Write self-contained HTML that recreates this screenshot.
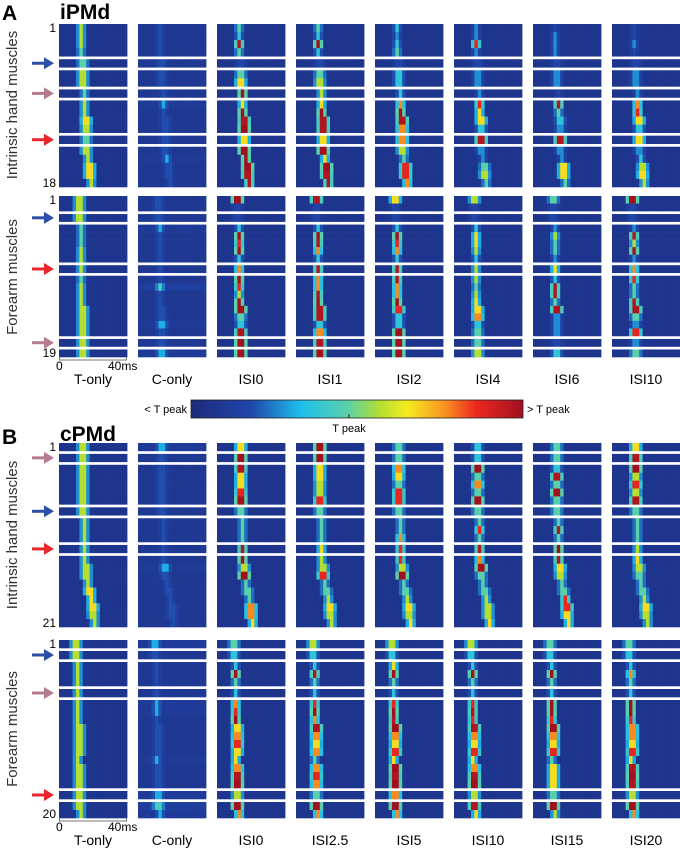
<!DOCTYPE html>
<html><head><meta charset="utf-8">
<style>
body{margin:0;background:#fff;}
#fig{position:relative;width:680px;height:852px;overflow:hidden;font-family:"Liberation Sans",sans-serif;color:#222;}
svg{position:absolute;left:0;top:0;}
</style></head>
<body>
<div id="fig">
<svg id="chart" width="680" height="852"></svg>
</div>
<script>
// ===== data =====
const conditionsA = ["T-only","C-only","ISI0","ISI1","ISI2","ISI4","ISI6","ISI10"];
const conditionsB = ["T-only","C-only","ISI0","ISI2.5","ISI5","ISI10","ISI15","ISI20"];
// latencies of T-only peak per muscle (ms)
const latAIntr = [13,13,13,13,14,14,14,15,15,15,16,16,16,16,17,18,18,19];
const latAFore = [12,12,12,13,13,13,13,13,13,13,13,13,13,14,14,14,14,14,14];
const latBIntr = [14,14,14,14,14,14,14,14,15,15,15,15,15,16,16,17,18,19,20,20,21];
const latBFore = [10,10,11,11,11,11,11,11,11,12,12,12,12,11,12,12,12,12,12,13];
// block structure (rows per block; single rows are highlighted muscles)
const blocksAIntr = [4,1,2,1,4,1,5];
const blocksAFore = [2,1,5,1,8,1,1];
const blocksBIntr = [1,1,5,1,3,1,9];
const blocksBFore = [1,1,3,1,11,1,2];
// peak amplitude per condition (0-10; 5 = T peak)
const ampAIntr = [
 [5,5,5,4,4,5,5,4,5,5,6,5,4,5,5,6,6,5],
 [1,1,1,1,1,1,1,1,2,1,1,1,1,1,2,1,1,1],
 [4,3,9,4,1,4,6,10,6,10,9,10,6,10,10,10,9,9],
 [4,3,10,3,1,4,5,5,6,10,9,9,6,10,6,10,9,9],
 [3,2,3,4,1,3,3,3,7,10,9,7,7,5,4,8,8,7],
 [2,2,8,2,1,2,2,2,8,6,6,3,9,2,2,4,5,4],
 [1,2,2,2,1,2,2,1,9,4,3,2,9,2,2,6,6,4],
 [1,1,2,1,1,2,2,2,7,8,6,3,6,2,3,5,6,5]];
const ampAFore = [
 [5,5,5,4,4,4,5,5,5,4,5,5,5,5,5,5,5,5,5],
 [1,1,1,2,1,1,1,1,1,1,3,1,1,1,1,2,1,1,2],
 [10,1,1,3,10,8,10,3,7,10,8,5,10,10,4,3,9,10,10],
 [9,1,1,3,10,9,7,3,9,7,7,9,10,9,9,3,7,9,10],
 [6,1,1,3,10,8,7,3,9,9,7,7,10,8,3,3,10,10,10],
 [5,1,1,3,6,6,5,3,5,5,4,5,6,6,7,3,4,4,5],
 [4,1,1,2,5,4,4,2,6,3,9,9,4,9,2,2,2,1,3],
 [10,1,1,2,9,5,10,2,7,8,4,4,9,9,4,2,8,2,4]];
const ampBIntr = [
 [5,5,5,5,5,5,5,5,5,5,5,5,5,5,5,5,6,6,6,5,5],
 [2,1,1,1,1,1,1,1,1,1,1,1,1,2,1,1,1,1,1,1,1],
 [6,10,9,6,6,8,10,4,4,4,4,9,10,5,10,4,4,4,7,7,6],
 [10,10,6,6,5,5,8,4,4,4,4,6,5,5,8,4,4,5,6,5,5],
 [4,4,7,6,4,8,8,4,4,4,7,8,8,5,10,4,4,5,6,5,6],
 [3,3,10,4,7,4,10,4,4,8,4,9,7,10,4,4,4,5,5,5,6],
 [4,4,3,9,4,10,4,4,4,9,4,10,9,6,5,4,4,8,8,6,6],
 [6,9,10,5,8,5,9,4,4,4,4,5,6,5,4,4,4,5,6,5,5]];
const ampBFore = [
 [5,5,5,5,5,5,5,5,5,5,5,5,5,5,5,5,5,5,5,5],
 [2,1,1,1,1,1,2,2,1,1,1,1,1,2,1,1,1,2,3,2],
 [4,3,3,10,4,3,7,8,10,6,7,8,6,6,7,9,10,5,10,7],
 [5,3,3,9,4,3,8,10,7,9,7,6,7,4,7,8,7,4,10,7],
 [5,3,6,10,4,3,8,10,9,10,7,6,8,6,10,9,10,7,10,7],
 [5,3,3,10,4,3,8,9,8,9,7,6,8,6,7,9,10,5,9,6],
 [4,3,3,10,4,3,10,10,8,10,7,6,8,4,6,6,6,4,10,5],
 [4,3,3,7,4,3,10,10,8,7,7,6,8,6,9,10,9,5,10,7]];
// arrow colors per highlighted row (1-based row index)
const arrowsAIntr = [[5,"blue"],[8,"pink"],[13,"red"]];
const arrowsAFore = [[3,"blue"],[9,"red"],[18,"pink"]];
const arrowsBIntr = [[2,"pink"],[8,"blue"],[12,"red"]];
const arrowsBFore = [[2,"blue"],[6,"pink"],[18,"red"]];
const timeMax = 40;

// ===== rendering =====
const NS="http://www.w3.org/2000/svg";
const svg=document.getElementById('chart');
function mk(tag,attrs,parent){const e=document.createElementNS(NS,tag);for(const k in attrs)e.setAttribute(k,attrs[k]);(parent||svg).appendChild(e);return e;}
const stops=[[0,[29,42,122]],[0.18,[32,70,170]],[0.33,[30,190,236]],[0.47,[90,208,170]],[0.57,[180,222,50]],[0.65,[244,236,32]],[0.76,[248,150,32]],[0.86,[236,40,32]],[1,[160,16,32]]];
function cmap(v){v=Math.max(0,Math.min(1,v));for(let i=1;i<stops.length;i++){if(v<=stops[i][0]){const a=stops[i-1],b=stops[i];const t=(v-a[0])/(b[0]-a[0]);const c=a[1].map((x,j)=>Math.round(x+(b[1][j]-x)*t));return `rgb(${c})`;}}return 'rgb(160,16,32)';}
const panelX=[59,138,217,296,375,454,533,612], panelW=68, nBins=20;
const xScale=ms=>ms/timeMax*nBins;
const colorOf={blue:"#2d4ea6",pink:"#b57b91",red:"#e8262b"};

function rowLayout(top,bottom,blocks){
  const n=blocks.reduce((a,b)=>a+b,0), gap=3;
  const rh=(bottom-top-gap*(blocks.length-1))/n;
  const ys=[];let y=top;
  blocks.forEach(b=>{for(let i=0;i<b;i++){ys.push(y);y+=rh;}y+=gap;});
  return {ys,rh,n};
}
function group(name,top,bottom,blocks,lat,amps,arrows,lastLabel){
  const L=rowLayout(top,bottom,blocks);
  const g=mk('g',{});
  
  
  amps.forEach((ampRow,ci)=>{
    const pg=mk('g',{},g);
    
    
    const bw=panelW/nBins;
    for(let r=0;r<L.n;r++){
      const lb=xScale(lat[r]);
      for(let b=0;b<nBins;b++){
        const d=Math.abs(b+0.5-lb);
        const k=d<0.75?1:(d<1.75?0.4:0);
        const v=0.07+ampRow[r]/10*k + (ci===1?ampRow[r]*0.02:0);
        const c=mk('rect',{x:(panelX[ci]+b*bw).toFixed(2),y:L.ys[r].toFixed(2),width:(bw+0.4).toFixed(2),height:(L.rh+0.3).toFixed(2),fill:cmap(v)},pg);
        
        
      }
    }
  });
  const t1=mk('text',{x:56,y:L.ys[0]+L.rh/2+4,'text-anchor':'end','font-size':12},g);t1.textContent='1';
  
  
  const t2=mk('text',{x:56,y:L.ys[L.n-1]+L.rh/2+4,'text-anchor':'end','font-size':12},g);t2.textContent=String(lastLabel);
  
  
  arrows.forEach(([row,col])=>{
    const y=L.ys[row-1]+L.rh/2, c=colorOf[col];
    const a=mk('g',{},g);
    
    
    mk('line',{x1:32,y1:y,x2:48,y2:y,stroke:c,'stroke-width':3},a);
    mk('path',{d:`M44 ${y-6} L54 ${y} L44 ${y+6} Z`,fill:c},a);
  });
}
group('iPMd-intrinsic',24,187,blocksAIntr,latAIntr,ampAIntr,arrowsAIntr,18);
group('iPMd-forearm',196,357,blocksAFore,latAFore,ampAFore,arrowsAFore,19);
group('cPMd-intrinsic',443,627,blocksBIntr,latBIntr,ampBIntr,arrowsBIntr,21);
group('cPMd-forearm',640,818,blocksBFore,latBFore,ampBFore,arrowsBFore,20);

function txt(s,x,y,attrs,name){const t=mk('text',Object.assign({x,y},attrs));t.textContent=s;return t;}
txt('A',2,20,{'font-size':21,'font-weight':'bold'},'panel-a-label');
txt('iPMd',60,19,{'font-size':21,'font-weight':'bold'},'panel-a-title');
txt('B',2,444,{'font-size':21,'font-weight':'bold'},'panel-b-label');
txt('cPMd',60,441,{'font-size':21,'font-weight':'bold'},'panel-b-title');
[['Intrinsic hand muscles',105],['Forearm muscles',277],['Intrinsic hand muscles',535],['Forearm muscles',729]].forEach(([s,y],i)=>{
  txt(s,0,0,{'font-size':15,'text-anchor':'middle',fill:'#333',transform:`translate(17,${y}) rotate(-90)`},'y-axis-title-'+(i+1));
});
function axis(y,conds,pre){
  const ax=mk('g',{});
  
  
  mk('line',{x1:59,y1:y,x2:127,y2:y,stroke:'#777','stroke-width':1},ax);
  mk('line',{x1:59.5,y1:y,x2:59.5,y2:y-3,stroke:'#777'},ax);
  mk('line',{x1:126.5,y1:y,x2:126.5,y2:y-3,stroke:'#777'},ax);
  txt('0',56,y+10,{'font-size':12},pre+'-scale-zero');
  txt('40ms',108,y+10,{'font-size':12},pre+'-scale-40ms');
  conds.forEach((c,i)=>txt(c,panelX[i]+panelW/2,y+24,{'font-size':14,'text-anchor':'middle'},pre+'-condition-label'));
}
axis(360,conditionsA,'a');
axis(821,conditionsB,'b');
const defs=mk('defs',{});
const lg=mk('linearGradient',{id:'cb',x1:0,x2:1,y1:0,y2:0},defs);
stops.forEach(s=>mk('stop',{offset:s[0],'stop-color':cmap(s[0])},lg));
const cb=mk('rect',{x:191,y:400,width:332,height:18,fill:'url(#cb)',stroke:'#222','stroke-width':0.8});


mk('line',{x1:349,y1:418,x2:349,y2:414,stroke:'#222'});
txt('< T peak',187,413,{'font-size':11,'text-anchor':'end'},'colorbar-low-label');
txt('> T peak',527,413,{'font-size':11},'colorbar-high-label');
txt('T peak',349,432,{'font-size':11,'text-anchor':'middle'},'colorbar-mid-label');
</script>
</body></html>
